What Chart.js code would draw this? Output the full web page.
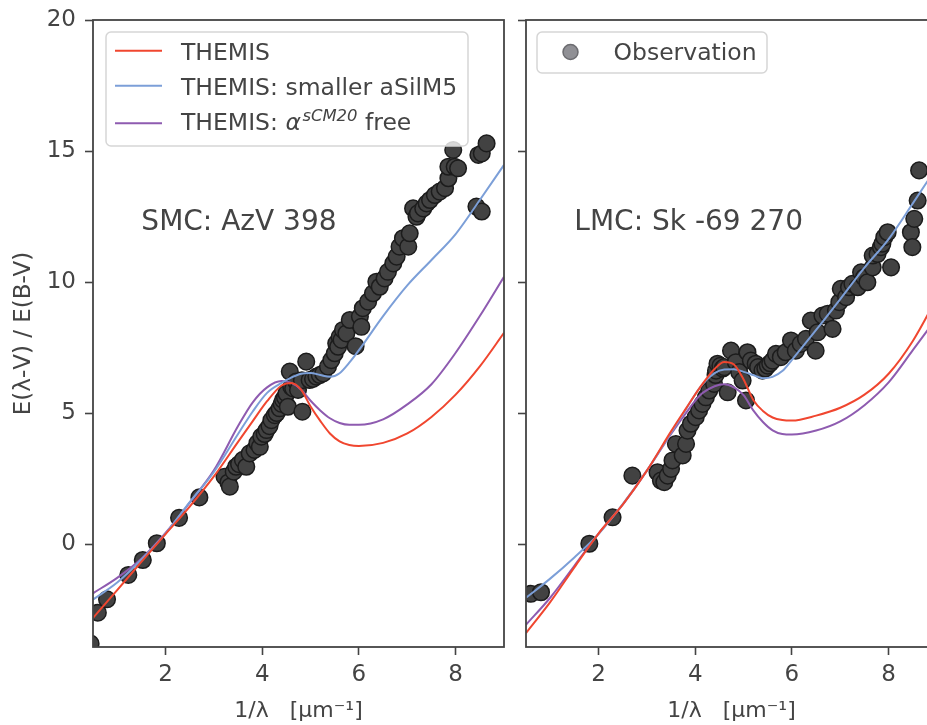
<!DOCTYPE html>
<html><head><meta charset="utf-8">
<script src="https://cdn.jsdelivr.net/npm/chart.js@4"></script>
<style>
html,body{margin:0;padding:0;background:#fff;overflow:hidden;}
#wrap{position:relative;width:927px;height:725px;overflow:hidden;background:#fff;}
#c1{position:absolute;left:0;top:0;}
#c2{position:absolute;left:510px;top:0;}
</style></head><body>
<div id="wrap"><canvas id="c1" width="510" height="725"></canvas><canvas id="c2" width="433" height="725"></canvas></div>
<script>
// ---------- data ----------
const xTicks = [2, 4, 6, 8];
const yTicks = [0, 5, 10, 15, 20];
const xRange = [0.5, 9.0];
const yRange = [-3.93, 20];
const seriesLabels = ['THEMIS', 'THEMIS: smaller aSilM5', 'THEMIS: α^sCM20 free'];
const obsLabel = 'Observation';
const panelNames = ['SMC: AzV 398', 'LMC: Sk -69 270'];
const notePos = [1.5, 12];
const xTitle = '1/λ   [μm⁻¹]';
const yTitle = 'E(λ-V) / E(B-V)';

const curveX = [0.5, 1.0, 1.5, 2.0, 2.5, 3.0, 3.5, 3.8, 4.1, 4.4, 4.6, 4.8, 5.0, 5.2, 5.4, 5.6, 5.8, 6.0, 6.5, 7.0, 7.5, 8.0, 8.5, 9.0];

const smcThemis  = [-2.82, -1.76, -0.68, 0.38, 1.43, 2.58, 3.90, 4.68, 5.45, 6.05, 6.15, 5.90, 5.25, 4.70, 4.22, 3.92, 3.78, 3.74, 3.86, 4.22, 4.85, 5.70, 6.78, 8.06];
const smcSmaller = [-2.12, -1.47, -0.60, 0.40, 1.60, 2.75, 4.20, 5.05, 5.77, 6.15, 6.35, 6.50, 6.53, 6.45, 6.38, 6.52, 6.92, 7.40, 8.70, 9.87, 10.84, 11.83, 13.13, 14.47];
const smcFree    = [-1.88, -1.29, -0.56, 0.42, 1.58, 2.81, 4.50, 5.40, 5.98, 6.22, 6.15, 5.90, 5.47, 5.10, 4.80, 4.62, 4.55, 4.55, 4.76, 5.33, 6.10, 7.30, 8.70, 10.20];

const lmcThemis  = [-3.40, -2.22, -0.89, 0.40, 1.50, 2.80, 4.30, 5.15, 5.98, 6.68, 6.95, 6.85, 6.28, 5.50, 5.08, 4.83, 4.73, 4.71, 4.90, 5.20, 5.70, 6.50, 7.75, 9.40];
const lmcSmaller = [-2.05, -1.32, -0.51, 0.38, 1.52, 2.80, 4.25, 5.12, 5.98, 6.52, 6.66, 6.67, 6.57, 6.45, 6.33, 6.38, 6.60, 7.03, 8.17, 9.35, 10.55, 11.64, 13.00, 14.40];
const lmcFree    = [-3.08, -2.05, -0.83, 0.40, 1.50, 2.80, 4.20, 4.98, 5.68, 6.02, 6.10, 5.98, 5.68, 5.10, 4.66, 4.34, 4.20, 4.18, 4.33, 4.68, 5.30, 6.17, 7.40, 8.65];

const smcObsX = [0.45, 0.60, 0.79, 1.23, 1.53, 1.82, 2.28, 2.70, 3.22, 3.30, 3.33, 3.41, 3.46, 3.52, 3.60, 3.67, 3.74, 3.84, 3.90, 3.95, 3.98, 4.05, 4.09, 4.15, 4.19, 4.26, 4.30, 4.36, 4.40, 4.43, 4.47, 4.50, 4.53, 4.57, 4.60, 4.64, 4.70, 4.74, 4.82, 4.83, 4.91, 4.98, 5.05, 5.12, 5.19, 5.26, 5.36, 5.43, 5.50, 5.53, 5.57, 5.60, 5.64, 5.67, 5.74, 5.81, 5.93, 6.02, 6.05, 6.08, 6.19, 6.29, 6.36, 6.43, 6.53, 6.60, 6.71, 6.78, 6.84, 6.91, 7.02, 7.05, 7.12, 7.19, 7.22, 7.33, 7.40, 7.47, 7.57, 7.67, 7.78, 7.85, 7.85, 7.95, 7.98, 8.05, 8.43, 8.47, 8.54, 8.54, 8.64];
const smcObsY = [-3.80, -2.62, -2.11, -1.18, -0.61, 0.03, 1.00, 1.78, 2.57, 2.35, 2.19, 2.76, 2.95, 3.05, 3.21, 2.95, 3.46, 3.59, 3.85, 3.71, 4.10, 4.20, 4.35, 4.50, 4.73, 4.92, 5.00, 5.18, 5.35, 5.50, 5.60, 5.75, 5.24, 6.58, 6.00, 5.94, 6.20, 5.88, 6.25, 5.05, 6.96, 6.26, 6.30, 6.39, 6.45, 6.51, 6.77, 7.02, 7.28, 7.66, 7.53, 7.91, 7.79, 8.17, 8.04, 8.55, 7.55, 8.68, 8.29, 9.00, 9.25, 9.57, 10.01, 9.82, 10.14, 10.39, 10.71, 10.97, 11.35, 11.67, 11.35, 11.86, 12.81, 12.49, 12.62, 12.81, 13.00, 13.13, 13.32, 13.45, 13.58, 13.96, 14.40, 15.04, 14.40, 14.34, 12.88, 14.85, 12.69, 14.91, 15.29];

const lmcObsX = [0.60, 0.81, 1.81, 2.29, 2.70, 3.22, 3.29, 3.36, 3.43, 3.50, 3.53, 3.60, 3.74, 3.81, 3.84, 3.91, 4.01, 4.08, 4.15, 4.22, 4.29, 4.39, 4.42, 4.43, 4.46, 4.52, 4.57, 4.60, 4.67, 4.74, 4.84, 4.91, 4.98, 5.05, 5.08, 5.15, 5.25, 5.30, 5.39, 5.45, 5.50, 5.55, 5.60, 5.67, 5.77, 5.87, 5.98, 6.08, 6.18, 6.29, 6.39, 6.49, 6.53, 6.63, 6.74, 6.84, 6.91, 6.98, 7.01, 7.12, 7.18, 7.25, 7.36, 7.43, 7.49, 7.56, 7.67, 7.67, 7.77, 7.84, 7.87, 7.91, 7.98, 8.05, 8.46, 8.49, 8.53, 8.60, 8.63];
const lmcObsY = [-1.90, -1.84, 0.01, 1.02, 2.61, 2.74, 2.42, 2.36, 2.61, 2.87, 3.19, 3.82, 3.38, 3.82, 4.33, 4.59, 4.84, 5.10, 5.35, 5.60, 5.86, 6.11, 6.45, 6.62, 6.88, 6.80, 6.70, 6.75, 5.79, 7.38, 6.94, 6.56, 6.24, 5.48, 7.32, 7.00, 6.88, 6.75, 6.62, 6.70, 6.81, 6.90, 7.00, 7.26, 7.13, 7.32, 7.77, 7.38, 7.64, 7.83, 8.53, 7.38, 8.08, 8.72, 8.79, 8.21, 8.91, 9.23, 9.74, 9.42, 9.80, 9.93, 9.80, 10.37, 10.18, 9.99, 10.56, 11.01, 11.07, 11.33, 11.46, 11.71, 11.90, 10.56, 11.90, 11.33, 12.41, 13.11, 14.26];

// ---------- style ----------
const FONT = '"DejaVu Sans", "Liberation Sans", sans-serif';
const TXT = '#444444';
const lineColors = ['#F0462F', '#7C9FD8', '#8E5BB0'];

function roundRect(ctx, x, y, w, h, r) {
  ctx.beginPath();
  ctx.moveTo(x + r, y);
  ctx.arcTo(x + w, y, x + w, y + h, r);
  ctx.arcTo(x + w, y + h, x, y + h, r);
  ctx.arcTo(x, y + h, x, y, r);
  ctx.arcTo(x, y, x + w, y, r);
  ctx.closePath();
}

function drawRichLabel(ctx, label, x, baseline, size) {
  const tokens = label.split(' ');
  tokens.forEach((tok, i) => {
    const word = tok + (i < tokens.length - 1 ? ' ' : '');
    if (tok.indexOf('^') >= 0) {
      const [base, sup] = tok.split('^');
      ctx.font = 'italic ' + size + 'px ' + FONT;
      ctx.fillText(base, x, baseline);
      x += ctx.measureText(base).width + 1.5;
      const ss = size * 0.7;
      ctx.font = 'italic ' + ss + 'px ' + FONT;
      ctx.fillText(sup, x, baseline - 9);
      x += ctx.measureText(sup).width;
      ctx.font = size + 'px ' + FONT;
      if (i < tokens.length - 1) x += ctx.measureText(' ').width;
    } else {
      ctx.font = size + 'px ' + FONT;
      ctx.fillText(word, x, baseline);
      x += ctx.measureText(word).width;
    }
  });
}

const decor = {
  id: 'decor',
  afterDatasetsDraw(chart, args, o) {
    const ctx = chart.ctx, a = chart.chartArea;
    const xs = chart.scales.x, ys = chart.scales.y;
    ctx.save();
    // panel annotation
    ctx.fillStyle = TXT;
    ctx.textAlign = 'left';
    ctx.textBaseline = 'alphabetic';
    ctx.font = '28px ' + FONT;
    ctx.fillText(o.note, xs.getPixelForValue(notePos[0]), ys.getPixelForValue(notePos[1]));
    // legend
    const L = o.legend;
    const lx = a.left + L.dx, ly = a.top + 12;
    roundRect(ctx, lx, ly, L.w, L.h, 5);
    ctx.fillStyle = 'rgba(255,255,255,0.8)';
    ctx.fill();
    ctx.strokeStyle = '#d6d6d6';
    ctx.lineWidth = 1.5;
    ctx.stroke();
    if (L.type === 'lines') {
      const base = [28, 63, 97.5];
      const sw = [18.7, 53.7, 91.3];
      seriesLabels.forEach((lab, i) => {
        ctx.strokeStyle = lineColors[i];
        ctx.lineWidth = 2;
        ctx.beginPath();
        ctx.moveTo(lx + 9, ly + sw[i]);
        ctx.lineTo(lx + 56, ly + sw[i]);
        ctx.stroke();
        ctx.fillStyle = TXT;
        drawRichLabel(ctx, lab, lx + 75, ly + base[i], 23.5);
      });
    } else {
      ctx.beginPath();
      ctx.arc(lx + 33.5, ly + 20, 7.5, 0, Math.PI * 2);
      ctx.fillStyle = '#909095';
      ctx.fill();
      ctx.strokeStyle = '#6c6c70';
      ctx.lineWidth = 1.5;
      ctx.stroke();
      ctx.fillStyle = TXT;
      ctx.font = '23.5px ' + FONT;
      ctx.fillText(obsLabel, lx + 76.5, ly + 28);
    }
    ctx.restore();
  },
  afterDraw(chart) {
    const ctx = chart.ctx, a = chart.chartArea;
    ctx.save();
    ctx.strokeStyle = '#444444';
    ctx.lineWidth = 1.8;
    ctx.strokeRect(a.left, a.top, a.right - a.left, a.bottom - a.top);
    ctx.restore();
  }
};

function lineDs(label, ys, color) {
  return {
    label, data: curveX.map((x, i) => ({x, y: ys[i]})),
    borderColor: color, backgroundColor: color, borderWidth: 2,
    pointRadius: 0, fill: false, cubicInterpolationMode: 'monotone', clip: 0
  };
}
function obsDs(xs, ys) {
  return {
    label: obsLabel, data: xs.map((x, i) => ({x, y: ys[i]})),
    showLine: false, pointRadius: 8.3, pointHoverRadius: 8.3,
    pointBackgroundColor: '#424242', pointBorderColor: '#1c1c1c', pointBorderWidth: 1.5, clip: 0
  };
}

function makePanel(id, curves, obsX, obsY, isLeft, note, legend) {
  const tickFont = {family: FONT, size: 23};
  new Chart(document.getElementById(id), {
    type: 'line',
    data: {
      datasets: [
        lineDs(seriesLabels[0], curves[0], lineColors[0]),
        lineDs(seriesLabels[1], curves[1], lineColors[1]),
        lineDs(seriesLabels[2], curves[2], lineColors[2]),
        obsDs(obsX, obsY)
      ]
    },
    options: {
      responsive: false, animation: false, devicePixelRatio: 1,
      layout: {autoPadding: false, padding: {top: 20, right: 6, left: 0, bottom: 0}},
      plugins: {legend: {display: false}, tooltip: {enabled: false}, decor: {note, legend}},
      events: [],
      scales: {
        x: {
          type: 'linear', min: xRange[0], max: xRange[1],
          afterBuildTicks: s => { s.ticks = xTicks.map(v => ({value: v})); },
          afterFit: s => { s.height = 78; s.paddingLeft = 0; s.paddingRight = 0; },
          ticks: {font: tickFont, color: TXT, padding: 6, maxRotation: 0, callback: v => String(v)},
          grid: {drawOnChartArea: false, drawTicks: true, tickLength: 8, tickWidth: 1.6, tickColor: '#444444'},
          border: {display: false},
          title: {display: true, text: xTitle, font: {family: FONT, size: 22}, color: TXT, padding: {top: 0, bottom: 1}}
        },
        y: {
          type: 'linear', min: yRange[0], max: yRange[1],
          afterBuildTicks: s => { s.ticks = yTicks.map(v => ({value: v})); },
          afterFit: s => { s.width = isLeft ? 93 : 16; s.paddingTop = 0; s.paddingBottom = 0; },
          ticks: {display: isLeft, font: tickFont, color: TXT, padding: 9, callback: v => String(v)},
          grid: {drawOnChartArea: false, drawTicks: true, tickLength: 8, tickWidth: 1.6, tickColor: '#444444'},
          border: {display: false},
          title: {display: isLeft, text: yTitle, font: {family: FONT, size: 23}, color: TXT, padding: {top: 10, bottom: 0}}
        }
      }
    },
    plugins: [decor]
  });
}

makePanel('c1', [smcThemis, smcSmaller, smcFree], smcObsX, smcObsY, true, panelNames[0],
  {type: 'lines', dx: 13, w: 362, h: 114});
makePanel('c2', [lmcThemis, lmcSmaller, lmcFree], lmcObsX, lmcObsY, false, panelNames[1],
  {type: 'obs', dx: 11, w: 230, h: 41});
</script>
</body></html>
